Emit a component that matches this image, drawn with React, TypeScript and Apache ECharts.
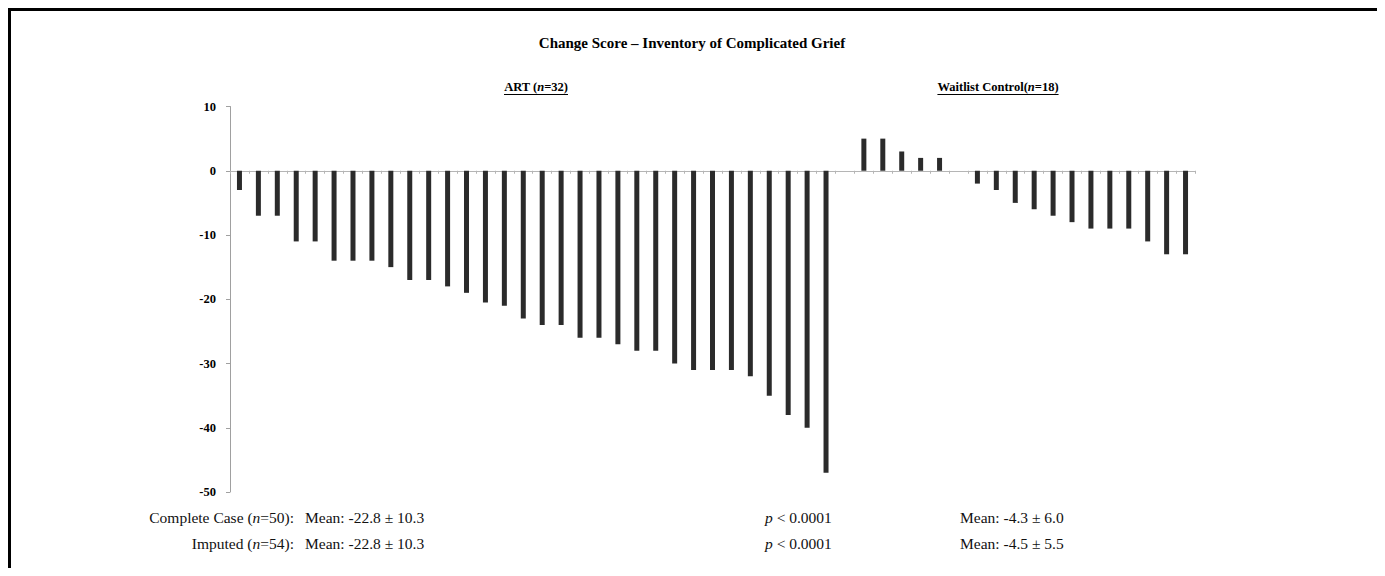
import { useEffect, useRef } from "react";
import * as echarts from "echarts";

// ---- data ----
const artValues = [
  -3, -7, -7, -11, -11, -14, -14, -14, -15, -17, -17, -18, -19, -20.5, -21, -23,
  -24, -24, -26, -26, -27, -28, -28, -30, -31, -31, -31, -32, -35, -38, -40, -47,
];
const waitlistValues = [5, 5, 3, 2, 2, 0, -2, -3, -5, -6, -7, -8, -9, -9, -9, -11, -13, -13];
const spacerCount = 1;
const yMin = -50;
const yMax = 10;
const yInterval = 10;

const titleText = "Change Score – Inventory of Complicated Grief";
const artHeader = ["ART (", "n", "=32)"];
const waitlistHeader = ["Waitlist Control(", "n", "=18)"];
const rowLabels = ["Complete Case", "Imputed"];
const rowN = [50, 54];
const artMeans = ["Mean: -22.8 ± 10.3", "Mean: -22.8 ± 10.3"];
const pValues = ["< 0.0001", "< 0.0001"];
const waitlistMeans = ["Mean: -4.3 ± 6.0", "Mean: -4.5 ± 5.5"];

const FONT = "'Liberation Serif', 'Times New Roman', serif";

function measure(parts: { text: string; font: string }[]) {
  const ctx = document.createElement("canvas").getContext("2d");
  if (!ctx) return 0;
  let w = 0;
  for (const p of parts) {
    ctx.font = p.font;
    w += ctx.measureText(p.text).width;
  }
  return w;
}

export default function App() {
  const ref = useRef<HTMLDivElement>(null);

  useEffect(() => {
    if (!ref.current) return;
    const chart = echarts.init(ref.current, undefined, { renderer: "svg" });

    const total = artValues.length + spacerCount + waitlistValues.length;
    const categories = Array.from({ length: total }, (_, i) => String(i + 1));
    const artData: (number | null)[] = [
      ...artValues,
      ...Array(total - artValues.length).fill(null),
    ];
    const wlData: (number | null)[] = [
      ...Array(artValues.length + spacerCount).fill(null),
      ...waitlistValues,
    ];

    const headerSize = 12.5;
    const headerFonts = (parts: string[]) => [
      { text: parts[0], font: `bold ${headerSize}px ${FONT}` },
      { text: parts[1], font: `italic bold ${headerSize}px ${FONT}` },
      { text: parts[2], font: `bold ${headerSize}px ${FONT}` },
    ];
    const artW = measure(headerFonts(artHeader));
    const wlW = measure(headerFonts(waitlistHeader));

    const artCx = 528;
    const wlCx = 990;
    const headerY = 79;

    const headerRich = {
      b: { fontFamily: FONT, fontWeight: "bold", fontSize: headerSize, fill: "#000" },
      bi: {
        fontFamily: FONT,
        fontWeight: "bold",
        fontStyle: "italic",
        fontSize: headerSize,
        fill: "#000",
      },
    };

    const bodySize = 15.5;
    const bodyRich = {
      r: { fontFamily: FONT, fontSize: bodySize, fill: "#111" },
      i: { fontFamily: FONT, fontSize: bodySize, fontStyle: "italic", fill: "#111" },
    };

    const rowsY = [509, 535];
    const statGraphics: any[] = [];
    rowLabels.forEach((lab, k) => {
      statGraphics.push({
        type: "text",
        x: 286,
        y: rowsY[k],
        style: {
          text: `{r|${lab} (}{i|n}{r|=${rowN[k]}):}`,
          rich: bodyRich,
          align: "right",
          verticalAlign: "middle",
        },
      });
      statGraphics.push({
        type: "text",
        x: 297,
        y: rowsY[k],
        style: {
          text: `{r|${artMeans[k]}}`,
          rich: bodyRich,
          align: "left",
          verticalAlign: "middle",
        },
      });
      statGraphics.push({
        type: "text",
        x: 757,
        y: rowsY[k],
        style: {
          text: `{i|p}{r| ${pValues[k]}}`,
          rich: bodyRich,
          align: "left",
          verticalAlign: "middle",
        },
      });
      statGraphics.push({
        type: "text",
        x: 952,
        y: rowsY[k],
        style: {
          text: `{r|${waitlistMeans[k]}}`,
          rich: bodyRich,
          align: "left",
          verticalAlign: "middle",
        },
      });
    });

    chart.setOption({
      animation: false,
      backgroundColor: "#fff",
      grid: { left: 222, top: 98.5, width: 965, height: 385.5, containLabel: false },
      xAxis: {
        type: "category",
        data: categories,
        boundaryGap: true,
        axisLine: { show: true, onZero: true, lineStyle: { color: "#b5b5b5", width: 1 } },
        axisTick: { show: true, length: 3, lineStyle: { color: "#b5b5b5" } },
        axisLabel: { show: false },
        splitLine: { show: false },
      },
      yAxis: {
        type: "value",
        min: yMin,
        max: yMax,
        interval: yInterval,
        axisLine: { show: true, lineStyle: { color: "#a0a0a0", width: 1 } },
        axisTick: { show: true, length: 4, lineStyle: { color: "#a0a0a0" } },
        splitLine: { show: false },
        axisLabel: {
          color: "#000",
          fontFamily: FONT,
          fontWeight: "bold",
          fontSize: 12.5,
          margin: 14,
        },
      },
      series: [
        {
          name: "ART",
          type: "bar",
          stack: "all",
          data: artData,
          barWidth: 5,
          itemStyle: { color: "#2b2b2b" },
        },
        {
          name: "Waitlist Control",
          type: "bar",
          stack: "all",
          data: wlData,
          barWidth: 5,
          itemStyle: { color: "#2b2b2b" },
        },
      ],
      graphic: [
        // frame
        { type: "line", shape: { x1: 1.5, y1: 0, x2: 1.5, y2: 560 }, style: { stroke: "#000", lineWidth: 3 } },
        { type: "line", shape: { x1: 0, y1: 1.5, x2: 1372, y2: 1.5 }, style: { stroke: "#000", lineWidth: 3 } },
        { type: "line", shape: { x1: 1370.5, y1: 0, x2: 1370.5, y2: 560 }, style: { stroke: "#000", lineWidth: 3 } },
        {
          type: "text",
          x: 684,
          y: 35,
          style: {
            text: titleText,
            fontFamily: FONT,
            fontWeight: "bold",
            fontSize: 15,
            fill: "#000",
            align: "center",
            verticalAlign: "middle",
          },
        },
        {
          type: "text",
          x: artCx,
          y: headerY,
          style: {
            text: `{b|${artHeader[0]}}{bi|${artHeader[1]}}{b|${artHeader[2]}}`,
            rich: headerRich,
            align: "center",
            verticalAlign: "middle",
          },
        },
        {
          type: "line",
          shape: { x1: artCx - artW / 2, y1: headerY + 7.5, x2: artCx + artW / 2, y2: headerY + 7.5 },
          style: { stroke: "#000", lineWidth: 1 },
        },
        {
          type: "text",
          x: wlCx,
          y: headerY,
          style: {
            text: `{b|${waitlistHeader[0]}}{bi|${waitlistHeader[1]}}{b|${waitlistHeader[2]}}`,
            rich: headerRich,
            align: "center",
            verticalAlign: "middle",
          },
        },
        {
          type: "line",
          shape: { x1: wlCx - wlW / 2, y1: headerY + 7.5, x2: wlCx + wlW / 2, y2: headerY + 7.5 },
          style: { stroke: "#000", lineWidth: 1 },
        },
        ...statGraphics,
      ],
    });

    return () => {
      chart.dispose();
    };
  }, []);

  return <div ref={ref} style={{ width: 1372, height: 560 }} />;
}
